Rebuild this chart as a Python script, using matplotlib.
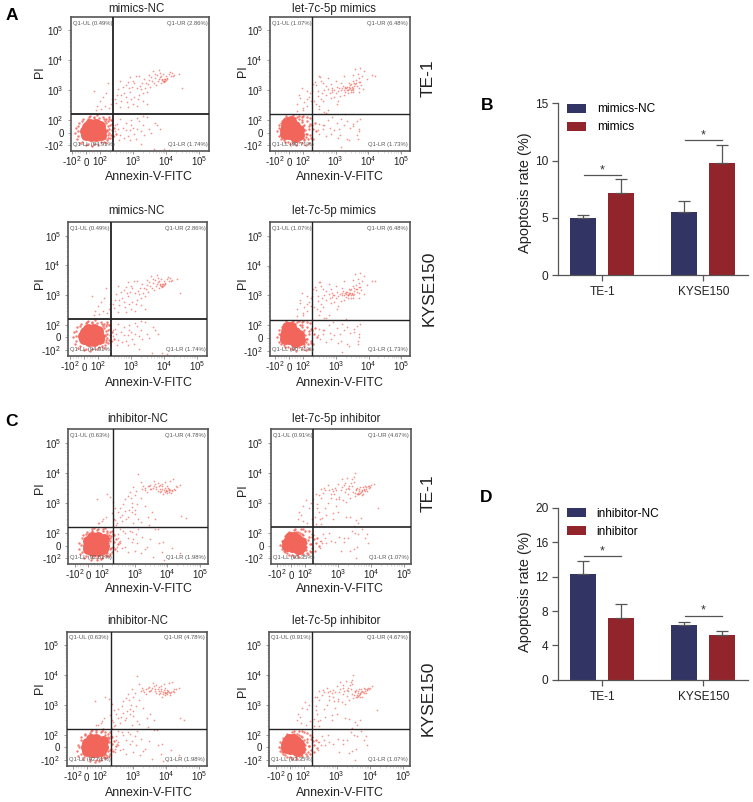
import matplotlib
matplotlib.use("Agg")
import matplotlib.pyplot as plt

plt.rcParams['font.family'] = ['Liberation Sans', 'DejaVu Sans']
plt.rcParams['mathtext.default'] = 'regular'

W, H = 753, 802
DOT = '#f2655a'
GREY = '#555555'
NAVY = '#323464'
RED = '#92252b'

# --- flow cytometry events (Annexin-V-FITC, PI) ---
NC_MIM_CORE_X = [0, 35, 70, 105, -5, 35, 70, 110, 5, 35, 70, 100, 30, 70]
NC_MIM_CORE_Y = [-15, -30, -30, -15, 15, 5, 10, 15, 45, 40, 45, 50, 70, 70]
NC_MIM_EDGE_X = [200, 230, 180, 220, 170, 150, 120, 60, 20, -20, -50, -70, -75, -65, -40, 0, 40, 90, 130, 160, 190, 240, 210, 260, 300, 170, 150, 190, 140, 125, 165, 195, 80, 30, 175, 185, 155, 130, 95, 55, 15, -25, -55, -60, -55, -30, 15, 60, 105, 145, 165, 205, 255, 240]
NC_MIM_EDGE_Y = [60, 20, -40, -20, 90, 110, 130, 130, 125, 110, 80, 40, 0, -50, -85, -100, -105, -95, -70, -60, 30, 70, 100, 40, -10, -20, -80, 110, 95, 40, 10, 125, 145, 140, 50, -5, 75, 105, 120, 118, 112, 95, 55, 15, -30, -70, -88, -92, -75, -40, 20, -45, -30, 100]
NC_MIM_X = [8800, 9500, 8200, 10000, 9000, 7600, 11000, 7000, 6000, 12000, 5500, 4500, 4000, 6500, 8000, 15000, 18000, 25000, 30000, 14000, 5000, 3800, 3000, 2500, 2200, 3200, 1800, 2700, 1500, 1200, 1000, 800, 700, 600, 500, 420, 350, 320, 550, 800, 1100, 1500, 900, 650, 450, 2000, 2600, 1300, 700, 400, 300, 240, 210, 180, 150, 120, 100, 80, 60, 140, 190, 110, 70, 1300, 900, 600, 500, 800, 350, 420, 520, 700, 1000, 1500, 2000, 2600, 3000, 2200, 3500, 4500, 5500, 6500, 320, 280, 270, 1200, 1700, 4200, 9000, 12000, 420, 2000, 1100,
            8500, 9300, 7800, 10500, 6800, 5800, 4800, 3500, 2900, 2400, 1900, 1600, 1300, 950, 750, 1100, 13000, 16000, 6000, 3000, 10000, 7200, 4200, 2000, 1400, 600, 450, 280, 1000, 800, 1800, 600, 380, 280, 900, 1300]
NC_MIM_Y = [2100, 2300, 2000, 2200, 1900, 2400, 2600, 1800, 2300, 3500, 3200, 3400, 4500, 3700, 3400, 3800, 3300, 3400, 1200, 2900, 1500, 2000, 2200, 1700, 2400, 1300, 1100, 900, 2900, 3000, 2100, 2800, 1900, 1500, 1300, 2100, 1100, 700, 800, 900, 600, 700, 500, 400, 450, 450, 350, 300, 280, 280, 360, 500, 350, 1800, 800, 600, 420, 300, 950, 300, 250, 230, 210, 120, 100, 80, 40, 20, 30, -20, -40, -30, 40, 90, 60, 130, 30, -15, -5, 80, 60, 30, 70, 15, -30, -50, -90, -130, -130, -140, 110, 140, -10,
            2300, 2000, 2200, 2400, 2700, 2000, 2600, 2800, 1600, 1200, 1800, 1400, 1200, 1300, 1200, 1700, 4200, 3000, 4800, 3200, 3000, 3000, 1800, 800, 500, 600, 700, 500, 350, -60, 10, 20, -60, 60, 60, 30]

LET_MIM_CORE_X = [-20, 10, 40, 70, -30, 0, 30, 60, 75, -30, 0, 30, 60, -15, 15, 40]
LET_MIM_CORE_Y = [50, 60, 50, 20, 20, 25, 20, 5, -15, -10, -10, -10, -20, 85, 90, -35]
LET_MIM_EDGE_X = [100, 130, 150, 120, 90, 60, 20, -10, -50, -70, -85, -75, -60, -30, 10, 50, 90, 110, 140, 170, 190, 210, 240, 160, 130, 100, 70, 30, -20, 170, 200, 120, 90, 260, 155, 105, 115, 95, 75, 45, 5, -25, -55, -70, -60, -40, -10, 30, 70, 105, 130, 125, 150, 180]
LET_MIM_EDGE_Y = [50, 90, 30, -10, 100, 125, 130, 120, 90, 60, 10, -30, -50, -75, -90, -100, -85, -60, -50, -20, 60, 30, 80, 120, 130, 140, 135, 145, 135, 70, -50, -95, 130, 10, -85, 60, 25, 85, 105, 115, 118, 105, 75, 35, -15, -55, -72, -85, -70, -50, -10, -35, 55, -40]
LET_MIM_X = [2500, 2900, 3200, 2200, 2700, 3500, 1900, 2000, 3000, 4000, 4500, 3700, 2400, 1700, 1500, 1300, 1100, 1000, 1400, 1800, 2600, 3300, 4200, 5000, 5500, 6000, 5200, 4800, 6500, 7500, 9000, 13000, 16000, 3800, 5500, 7000, 5200, 900, 750, 600, 500, 420, 350, 300, 600, 750, 900, 1200, 700, 500, 350, 280, 250, 260, 320, 400, 1100, 600, 450, 300, 200, 170, 150, 130, 110, 90, 75, 60, 130, 100, 80, 55, 190, 220, 330, 1800, 3300, 2000, 500, 400, 600, 800, 1100, 1300, 1500, 900, 700, 500, 400, 300, 1200, 1800, 2200, 2700, 3500, 4500, 5000, 4800, 5200, 4600, 5500, 1500, 2600,
             2800, 3100, 2300, 3400, 2600, 2100, 3600, 1600, 1200, 4300, 5000, 2900, 3300, 800, 650, 450, 380, 280, 230, 700, 1500, 1000, 180, 130, 100, 2400, 2000, 1800, 450, 320, 280, 650, 1400, 2200, 3500]
LET_MIM_Y = [1100, 1000, 1250, 1300, 1500, 1150, 1200, 900, 850, 1600, 1350, 1800, 800, 1400, 1000, 1150, 1300, 800, 650, 700, 1700, 2000, 2200, 2600, 1900, 1500, 1200, 3500, 3000, 4500, 2300, 3100, 3000, 5200, 5600, 1100, 850, 1000, 1200, 1100, 1400, 1700, 2100, 2900, 2500, 900, 600, 450, 550, 700, 500, 650, 1500, 350, 300, 420, 350, 220, 180, 230, 1600, 800, 600, 950, 400, 1200, 700, 350, 300, 220, 550, 200, 950, 420, 2800, 3000, 3300, 160, 170, 60, 100, 130, 80, 30, 110, 20, -10, -30, 30, 70, -40, 60, 90, 40, 50, 95, 30, -50, 10, -20, 110, -110, -60,
             1200, 1100, 1050, 1000, 1250, 1150, 1400, 1200, 950, 1700, 1900, 1600, 850, 1050, 800, 1000, 800, 950, 1900, 1600, 1800, 2000, 450, 500, 250, 1000, 1300, 1000, 60, -10, 20, 40, -20, -50, 70]

NC_INH_CORE_X = [0, 35, 70, 105, -5, 35, 70, 115, 0, 35, 70, 110, 30, 70, 115]
NC_INH_CORE_Y = [-30, -40, -40, -30, 0, 0, 0, 0, 35, 35, 35, 35, 65, 65, 50]
NC_INH_EDGE_X = [150, 170, 190, 210, 230, 200, 170, 140, 110, 70, 30, -10, -40, -65, -70, -60, -30, 20, 60, 100, 140, 180, 215, 130, 90, 260, 300, 160, 120, 40, 195, 225, 175, 165, 140, 105, 65, 25, -15, -45, -55, -45, -20, 25, 65, 105, 145, 170, 185, 240]
NC_INH_EDGE_Y = [20, 60, -20, 90, 30, -50, 110, 120, 135, 140, 130, 110, 80, 20, -30, -70, -95, -110, -115, -100, -85, -65, -10, -75, -105, 50, 10, -80, 150, 145, 120, 85, 40, 85, 100, 120, 122, 115, 95, 60, 5, -50, -80, -95, -98, -85, -60, -30, 75, -25]
NC_INH_X = [9000, 10000, 11000, 8000, 9500, 12000, 14000, 7000, 8500, 10500, 13000, 16000, 20000, 24000, 7500, 6000, 5000, 4500, 3800, 3000, 2500, 2000, 1700, 1500, 1300, 6000, 7000, 8500, 12000, 15000, 4000, 5000, 3200, 2400, 1000, 900, 700, 600, 850, 1200, 800, 500, 450, 350, 300, 420, 600, 800, 1000, 1300, 2000, 2600, 3300, 4200, 1500, 900, 550, 400, 280, 220, 180, 140, 110, 80, 60, 130, 100, 70, 200, 230, 250, 26000, 36000, 2800, 5200, 300, 350, 450, 600, 800, 1100, 1300, 1700, 2300, 3000, 4200, 5500, 7500, 2000, 1600, 1000, 600, 400, 320, 280, 500, 800, 14000, 8000, 24000, 7000, 3600,
            9200, 10800, 8200, 11500, 13500, 6500, 5500, 4500, 3500, 2800, 2100, 1800, 4200, 7000, 9500, 18000, 17000, 3000, 6000, 1100, 1500, 750, 1000, 650, 500, 350, 240, 260, 220, 700, 900, 350, 300, 280, 350, 500, 1200]
NC_INH_Y = [2400, 2500, 2300, 2600, 2200, 2700, 2600, 2800, 3200, 3100, 2200, 3000, 3300, 3800, 1900, 2900, 2500, 3400, 3700, 4000, 3500, 3200, 2900, 4800, 9000, 3900, 4300, 4900, 5500, 6000, 5200, 4700, 2800, 2300, 1800, 3300, 2300, 1700, 1000, 900, 750, 1300, 900, 700, 500, 400, 350, 500, 420, 280, 800, 350, 480, 300, 230, 220, 300, 250, 220, 1100, 1600, 1900, 280, 210, 1300, 350, 250, 210, 450, 300, 650, 370, 310, 180, 140, 90, 40, 120, 60, 25, 90, 130, 70, -10, 50, 140, 20, 30, -30, -60, -40, -50, -20, 30, -40, 100, 110, -20, -110, -60, -50, -90,
            2600, 2700, 2300, 2800, 2500, 2500, 3500, 2900, 3200, 3600, 2700, 3700, 4200, 3500, 3600, 3500, 2600, 2800, 2300, 2500, 1500, 1500, 600, 600, 550, 350, 260, 190, 170, 120, 50, 130, 60, -10, 20, -15, 20]

LET_INH_CORE_X = [-15, 15, 45, 70, -25, 5, 35, 65, 75, -25, 5, 35, 60, -5, 25, 50]
LET_INH_CORE_Y = [45, 55, 50, 25, 20, 20, 20, 10, -10, -5, -10, -10, -25, 70, 70, -30]
LET_INH_EDGE_X = [100, 130, 150, 110, 80, 50, 20, -15, -45, -65, -75, -65, -45, -15, 20, 55, 90, 115, 140, 170, 190, 210, 235, 160, 130, 100, 260, 175, 70, 200, 125, 155, 90, 30, 100, 110, 90, 65, 35, 0, -30, -55, -62, -52, -30, 5, 45, 80, 105, 125, 145, 165]
LET_INH_EDGE_Y = [30, 70, 10, -15, 90, 110, 125, 110, 75, 40, 5, -30, -50, -75, -90, -90, -70, -55, -40, -20, 50, 20, 60, 95, 115, 120, -5, 85, 130, -40, -70, -50, 130, 130, 55, 20, 80, 100, 108, 100, 75, 35, -5, -40, -62, -75, -78, -62, -35, 45, 10, 70]
LET_INH_X = [4000, 4500, 5000, 3500, 3800, 5500, 6000, 6500, 7000, 8000, 9000, 4200, 5200, 3200, 4800, 7500, 5800, 10000, 12000, 3000, 2500, 2000, 1700, 1500, 1200, 1000, 800, 700, 600, 500, 420, 350, 300, 260, 600, 850, 1100, 1400, 1800, 2300, 2800, 900, 500, 420, 1000, 700, 450, 320, 260, 220, 180, 150, 130, 110, 90, 75, 60, 50, 85, 120, 160, 200, 230, 240, 210, 16000, 3200, 3000, 2700, 1900, 1300, 700, 3500, 5000, 4000, 3000, 2300, 1800, 2700, 3300, 4000, 2000, 1500, 1100, 800, 550, 420, 340, 280, 3000, 6500, 8000, 7500, 1200, 2300, 3800, 3500, 5300,
             4300, 4700, 3900, 5200, 6200, 3400, 5600, 7200, 6800, 8500, 9500, 4500, 3600, 2700, 2200, 1300, 900, 1600, 2000, 650, 550, 380, 1100, 750, 300, 1600, 2200, 280, 300, 350, 450, 300, 1500, 600, 280]
LET_INH_Y = [2100, 2000, 2300, 2600, 3200, 2700, 3000, 2400, 3300, 3500, 3700, 1900, 1800, 1700, 3400, 2500, 1900, 3800, 4200, 5000, 4700, 3200, 2900, 3800, 2700, 4300, 3200, 2500, 2000, 3800, 2700, 2200, 3000, 1800, 1500, 1300, 1600, 1200, 1100, 1500, 2300, 800, 1000, 700, 500, 450, 380, 320, 500, 1900, 1300, 1000, 700, 1200, 800, 400, 500, 300, 250, 210, 280, 340, 650, 900, 200, 650, 10000, 7000, 6000, 6500, 6000, 300, 260, 320, 220, 170, 330, 350, 120, 100, 90, 60, 30, 70, 30, 100, 60, 20, 40, -30, 60, 20, 90, -40, -45, -10, -100, 130,
             2400, 2100, 1900, 2500, 2700, 2200, 3400, 2900, 3600, 3100, 3300, 3000, 2900, 3500, 2800, 3300, 2600, 2300, 2000, 3000, 2600, 3100, 1300, 1900, 1400, 4700, 3600, 280, 200, 90, 20, 40, 60, 40, -20]

MIM_NC_PCT = ['Q1-UL (0.49%)', 'Q1-UR (2.86%)', 'Q1-LL (94.91%)', 'Q1-LR (1.74%)']
MIM_LET_PCT = ['Q1-UL (1.07%)', 'Q1-UR (6.48%)', 'Q1-LL (90.71%)', 'Q1-LR (1.73%)']
INH_NC_PCT = ['Q1-UL (0.63%)', 'Q1-UR (4.78%)', 'Q1-LL (92.61%)', 'Q1-LR (1.98%)']
INH_LET_PCT = ['Q1-UL (0.91%)', 'Q1-UR (4.67%)', 'Q1-LL (93.35%)', 'Q1-LR (1.07%)']

MAJOR_TICKS = [-100, 0, 100, 1000, 10000, 100000]
MAJOR_LABELS = ['-$10^{2}$', '0', '$10^{2}$', '$10^{3}$', '$10^{4}$', '$10^{5}$']
MINOR_TICKS = [-80, -60, -40, -20, 20, 40, 60, 80,
               200, 300, 400, 500, 600, 700, 800, 900,
               2000, 3000, 4000, 5000, 6000, 7000, 8000, 9000,
               20000, 30000, 40000, 50000, 60000, 70000, 80000, 90000]

GROUPS = ['TE-1', 'KYSE150']
MIM_NC_VAL = [5.0, 5.48]
MIM_NC_ERR = [0.2, 0.96]
MIM_VAL = [7.15, 9.76]
MIM_ERR = [1.2, 1.6]
MIM_SIG = [8.77, 11.78]

INH_NC_VAL = [12.27, 6.41]
INH_NC_ERR = [1.56, 0.27]
INH_VAL = [7.18, 5.17]
INH_ERR = [1.64, 0.46]
INH_SIG = [14.37, 7.46]

fig = plt.figure(figsize=(W / 100, H / 100), dpi=100)


def box(left, top, right, bottom):
    return fig.add_axes([left / W, 1 - bottom / H, (right - left) / W, (bottom - top) / H])


def put(x, y, s, **kw):
    fig.text(x / W, 1 - y / H, s, ha='center', va='center', **kw)


def flow_panel(rect, xlim, gate_x, events, pct, title, title_xy, xlabel_xy, ylabel_xy, gate_lw=1.0):
    ax = box(*rect)
    core_x, core_y, edge_x, edge_y, ev_x, ev_y = events
    ax.set_xscale('symlog', linthresh=100, linscale=0.38)
    ax.set_yscale('symlog', linthresh=100, linscale=0.38)
    ax.set_xlim(*xlim)
    ax.set_ylim(-155, 280000)

    ax.scatter(core_x, core_y, s=62, color=DOT, linewidths=0, zorder=2)
    ax.scatter(edge_x, edge_y, s=3, color=DOT, alpha=0.85, linewidths=0, zorder=2)
    ax.scatter(ev_x, ev_y, s=1.5, color=DOT, alpha=0.7, linewidths=0, zorder=2)

    ax.axvline(gate_x, color='#222222', lw=gate_lw, zorder=3)
    ax.axhline(155, color='#222222', lw=gate_lw, zorder=3)

    for axis in (ax.xaxis, ax.yaxis):
        axis.set_ticks(MAJOR_TICKS, MAJOR_LABELS)
        axis.set_ticks(MINOR_TICKS, minor=True)
    ax.tick_params(which='major', length=2, width=0.6, color='#888888', labelsize=7, labelcolor='#222222')
    ax.tick_params(axis='x', which='major', pad=8.8)
    ax.tick_params(axis='y', which='major', pad=3)
    ax.tick_params(which='minor', length=1.5, width=0.4, color='#bbbbbb')
    for t in ax.get_xticklabels():
        t.set_verticalalignment('baseline')
    for sp in ax.spines.values():
        sp.set_color(GREY)
        sp.set_linewidth(1.2)

    ax.text(0.015, 0.955, pct[0], transform=ax.transAxes, fontsize=4.2, color=GREY, va='center')
    ax.text(0.985, 0.955, pct[1], transform=ax.transAxes, fontsize=4.2, color=GREY, va='center', ha='right')
    ax.text(0.015, 0.05, pct[2], transform=ax.transAxes, fontsize=4.2, color=GREY, va='center')
    ax.text(0.985, 0.05, pct[3], transform=ax.transAxes, fontsize=4.2, color=GREY, va='center', ha='right')

    put(title_xy[0], title_xy[1], title, fontsize=8.3, color='#222222')
    put(xlabel_xy[0], xlabel_xy[1], 'Annexin-V-FITC', fontsize=8.9, color='#222222')
    put(ylabel_xy[0], ylabel_xy[1], 'PI', fontsize=8.9, color='#222222', rotation=90)


def bar_panel(rect, ymax, yticks, nc_val, nc_err, val, err, sig, labels, star_off, label_y):
    ax = box(*rect)
    xs = list(range(len(GROUPS)))
    ax.bar([x - 0.188 for x in xs], nc_val, 0.257, color=NAVY, label=labels[0])
    ax.bar([x + 0.188 for x in xs], val, 0.257, color=RED, label=labels[1])
    ax.errorbar([x - 0.188 for x in xs], nc_val, yerr=[[0, 0], nc_err], fmt='none', ecolor=GREY, elinewidth=0.9, capsize=4.3, capthick=0.9, zorder=1)
    ax.errorbar([x + 0.188 for x in xs], val, yerr=[[0, 0], err], fmt='none', ecolor=GREY, elinewidth=0.9, capsize=4.3, capthick=0.9, zorder=1)
    for x, s in zip(xs, sig):
        ax.plot([x - 0.18, x + 0.19], [s, s], color=GREY, lw=0.9)
        ax.text(x, s + star_off, '*', fontsize=9, color='#333333', ha='center', va='center')
    ax.set_xlim(-0.4356, 1.4426)
    ax.set_ylim(0, ymax)
    ax.set_xticks(xs, GROUPS)
    ax.set_yticks(yticks)
    ax.tick_params(length=4, width=0.9, color=GREY, labelsize=8.6, labelcolor='#222222', pad=3)
    ax.tick_params(axis='x', pad=4)
    for name in ('top', 'right'):
        ax.spines[name].set_visible(False)
    for name in ('left', 'bottom'):
        ax.spines[name].set_color(GREY)
        ax.spines[name].set_linewidth(0.9)
    ax.set_ylabel('Apoptosis rate (%)', fontsize=10.5, color='#222222')
    ax.yaxis.set_label_coords(-26.5 / 189.7, label_y)
    ax.legend(loc='upper left', bbox_to_anchor=(0.045, 1.0), frameon=False, fontsize=8.6,
              handlelength=1.6, handleheight=0.8, handletextpad=0.9, labelspacing=0.5, borderpad=0, borderaxespad=0)
    return ax


MIM_NC = (NC_MIM_CORE_X, NC_MIM_CORE_Y, NC_MIM_EDGE_X, NC_MIM_EDGE_Y, NC_MIM_X, NC_MIM_Y)
MIM_LET = (LET_MIM_CORE_X, LET_MIM_CORE_Y, LET_MIM_EDGE_X, LET_MIM_EDGE_Y, LET_MIM_X, LET_MIM_Y)
INH_NC = (NC_INH_CORE_X, NC_INH_CORE_Y, NC_INH_EDGE_X, NC_INH_EDGE_Y, NC_INH_X, NC_INH_Y)
INH_LET = (LET_INH_CORE_X, LET_INH_CORE_Y, LET_INH_EDGE_X, LET_INH_EDGE_Y, LET_INH_X, LET_INH_Y)

flow_panel((70.5, 17, 209.5, 151), (-111, 208000), 248, MIM_NC, MIM_NC_PCT, 'mimics-NC', (136, 9), (149, 177), (40, 72), 1.3)
flow_panel((270, 17, 410, 151), (-145, 187000), 187, MIM_LET, MIM_LET_PCT, 'let-7c-5p mimics', (334, 9), (340, 177), (243, 71), 1.0)
flow_panel((68, 222.3, 207.5, 355.7), (-115, 208000), 248, MIM_NC, MIM_NC_PCT, 'mimics-NC', (136, 211), (149, 383), (40, 283), 1.3)
flow_panel((270, 222.3, 410.3, 356.3), (-145, 187000), 187, MIM_LET, MIM_LET_PCT, 'let-7c-5p mimics', (334, 211), (340, 383), (243, 283), 1.0)
flow_panel((68.3, 429.3, 208.3, 564), (-155, 178000), 215, INH_NC, INH_NC_PCT, 'inhibitor-NC', (138, 419), (149, 589), (40, 488), 1.0)
flow_panel((270.7, 429.3, 410.7, 564), (-155, 160000), 175, INH_LET, INH_LET_PCT, 'let-7c-5p inhibitor', (336, 419), (340, 589), (243, 490), 1.2)
flow_panel((66.7, 631.7, 207, 765.7), (-155, 178000), 215, INH_NC, INH_NC_PCT, 'inhibitor-NC', (138, 621), (149, 793), (40, 688), 1.0)
flow_panel((269.3, 631.7, 409.7, 765.7), (-155, 160000), 175, INH_LET, INH_LET_PCT, 'let-7c-5p inhibitor', (336, 621), (340, 793), (243, 691), 1.0)

bar_panel((558.3, 103.3, 748, 275), 15, [0, 5, 10, 15], MIM_NC_VAL, MIM_NC_ERR, MIM_VAL, MIM_ERR, MIM_SIG, ['mimics-NC', 'mimics'], 0.38, 0.48)
bar_panel((558.3, 508, 748, 679.7), 20, [0, 4, 8, 12, 16, 20], INH_NC_VAL, INH_NC_ERR, INH_VAL, INH_ERR, INH_SIG, ['inhibitor-NC', 'inhibitor'], 0.55, 0.51)

# cell line names beside each row
put(428, 78, 'TE-1', fontsize=12.5, color='#222222', rotation=90)
put(429, 288, 'KYSE150', fontsize=12.5, color='#222222', rotation=90)
put(428, 493, 'TE-1', fontsize=12.5, color='#222222', rotation=90)
put(428, 698, 'KYSE150', fontsize=12.5, color='#222222', rotation=90)

put(12, 15, 'A', fontsize=12.5, fontweight='bold', color='black')
put(487, 105, 'B', fontsize=12.5, fontweight='bold', color='black')
put(11, 421, 'C', fontsize=12.5, fontweight='bold', color='black')
put(486, 497, 'D', fontsize=12.5, fontweight='bold', color='black')

fig.savefig('out.png', dpi=100)
